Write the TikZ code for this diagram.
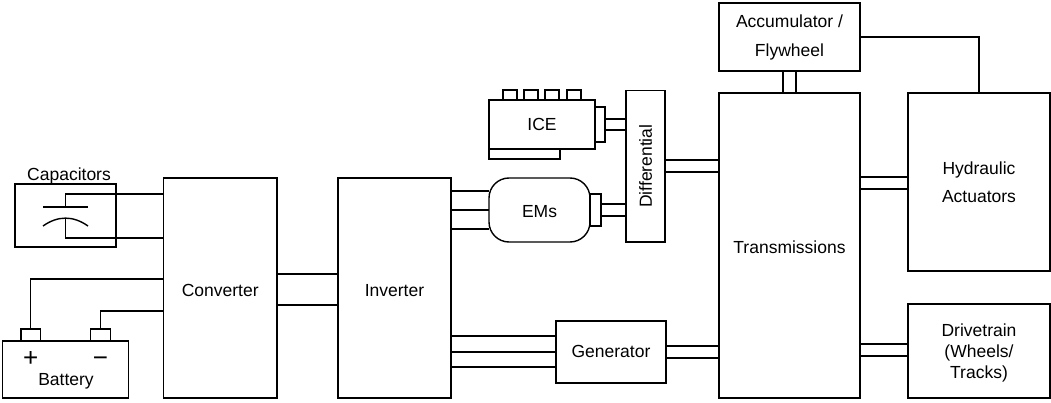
\documentclass[tikz,border=0pt]{standalone}
\usepackage{fontspec}
\setmainfont{Liberation Sans}
\tikzstyle{block} = [rectangle, draw=black, line width=1.4pt, inner sep=0pt, outer sep=0pt, align=center, font=\fontsize{17.5}{21}\selectfont]
\tikzstyle{wire} = [line width=1.4pt, line join=miter]
\tikzstyle{caption} = [inner sep=0pt, font=\fontsize{17.5}{21}\selectfont]
\begin{document}
\begin{tikzpicture}[x=1pt, y=-1pt]
\useasboundingbox (0,0) rectangle (1051,403);
% main blocks
\node(conv)[block, text height=18pt, minimum width=113.5pt, minimum height=220pt] at (220.25,288) {Converter};
\node(inv)[block, text height=18pt, minimum width=113pt, minimum height=220pt] at (394.5,288) {Inverter};
\node(trans)[block, text height=17pt, minimum width=141pt, minimum height=305pt] at (789.5,245.5) {Transmissions};
\node(acc)[block, minimum width=141pt, minimum height=68pt] at (789.5,37) {Accumulator /\\[8pt]Flywheel};
\node(hyd)[block, minimum width=142pt, minimum height=178pt] at (979,182) {Hydraulic\\[7pt]Actuators};
\node(drive)[block, minimum width=142pt, minimum height=94pt] at (979,351) {\rule{0pt}{17pt}Drivetrain\\(Wheels/\\Tracks)};
\node(gen)[block, text height=11.5pt, text depth=0pt, minimum width=110pt, minimum height=62pt] at (611,352) {Generator};
\node(diff)[block, rotate=90, minimum width=151.5pt, minimum height=39pt] at (645.5,166.25) {Differential};
% engine
\node(ice)[block, minimum width=106pt, minimum height=49pt] at (542,124.5) {ICE};
\node(sump)[block, minimum width=71pt, minimum height=10pt, anchor=north west] at (ice.south west) {};
\node(iceout)[block, minimum width=10pt, minimum height=35pt, anchor=west] at (ice.east) {};
\foreach \cx/\cname in {510/a, 531/b, 552/c, 574/d}
  \node(cyl\cname)[block, minimum width=14pt, minimum height=10pt, anchor=south] at (\cx,100) {};
% motor
\node(ems)[block, text height=15pt, rounded corners=20pt, minimum width=101pt, minimum height=64pt] at (539.5,210) {EMs};
\node(emsout)[block, minimum width=11pt, minimum height=32pt, anchor=west] at (ems.east) {};
% storage
\node(cap)[block, minimum width=101pt, minimum height=63pt] at (65.5,215.5) {};
\node(caplabel)[caption] at (69,176) {Capacitors};
\node(batt)[block, minimum width=126pt, minimum height=57pt] at (65.5,369.5) {};
\node(battlabel)[caption] at (66,381) {Battery};
\node(battp)[block, minimum width=19.5pt, minimum height=12pt, anchor=south] at (30.75,341) {};
\node(battm)[block, minimum width=19.5pt, minimum height=12pt, anchor=south] at (100.5,341) {};
\node(plus)[caption, font=\fontsize{26}{26}\selectfont] at (30.75,358.5) {+};
\node(minus)[caption, font=\fontsize{26}{26}\selectfont] at (100.5,361.5) {\char"2212};
% capacitor symbol
\coordinate(plateu) at (65.5,207);
\coordinate(platel) at (65.5,218);
\draw[wire] (43,207) -- (88,207);
\draw[wire] (43,226) .. controls (58,215.5) and (73,215.5) .. (88,226);
\draw[wire] (plateu) |- ([yshift=94pt]conv.west);
\draw[wire] (platel) |- ([yshift=50pt]conv.west);
% battery wires
\draw[wire] (battp.north) |- ([yshift=9pt]conv.west);
\draw[wire] (battm.north) |- ([yshift=-23pt]conv.west);
% converter to inverter
\draw[wire] ([yshift=14pt]conv.east) -- ([yshift=14pt]inv.west);
\draw[wire] ([yshift=-17pt]conv.east) -- ([yshift=-17pt]inv.west);
% inverter to motor
\foreach \dy in {19, 0, -19}
  \draw[wire] (inv.east |- 0,210-\dy) -- ([yshift=\dy pt]ems.west);
% inverter to generator
\foreach \dy in {16, 0, -15}
  \draw[wire] (inv.east |- 0,352-\dy) -- ([yshift=\dy pt]gen.west);
% shafts
\draw[wire] ([yshift=6pt]emsout.east) -- (diff.north |- 0,204);
\draw[wire] ([yshift=-6pt]emsout.east) -- (diff.north |- 0,216);
\draw[wire] ([yshift=5.5pt]iceout.east) -- (diff.north |- 0,119);
\draw[wire] ([yshift=-5.5pt]iceout.east) -- (diff.north |- 0,130);
\draw[wire] (diff.south |- 0,160) -- (trans.west |- 0,160);
\draw[wire] (diff.south |- 0,172) -- (trans.west |- 0,172);
\draw[wire] ([yshift=6pt]gen.east) -- (trans.west |- 0,346);
\draw[wire] ([yshift=-6pt]gen.east) -- (trans.west |- 0,358);
\draw[wire] (trans.east |- 0,177) -- (hyd.west |- 0,177);
\draw[wire] (trans.east |- 0,189) -- (hyd.west |- 0,189);
\draw[wire] (trans.east |- 0,344) -- (drive.west |- 0,344);
\draw[wire] (trans.east |- 0,356) -- (drive.west |- 0,356);
\draw[wire] ([xshift=-6.5pt]acc.south) -- ([xshift=-6.5pt]trans.north);
\draw[wire] ([xshift=6.5pt]acc.south) -- ([xshift=6.5pt]trans.north);
% accumulator to actuators
\draw[wire] (acc.east) -| (hyd.north);
\end{tikzpicture}
\end{document}
